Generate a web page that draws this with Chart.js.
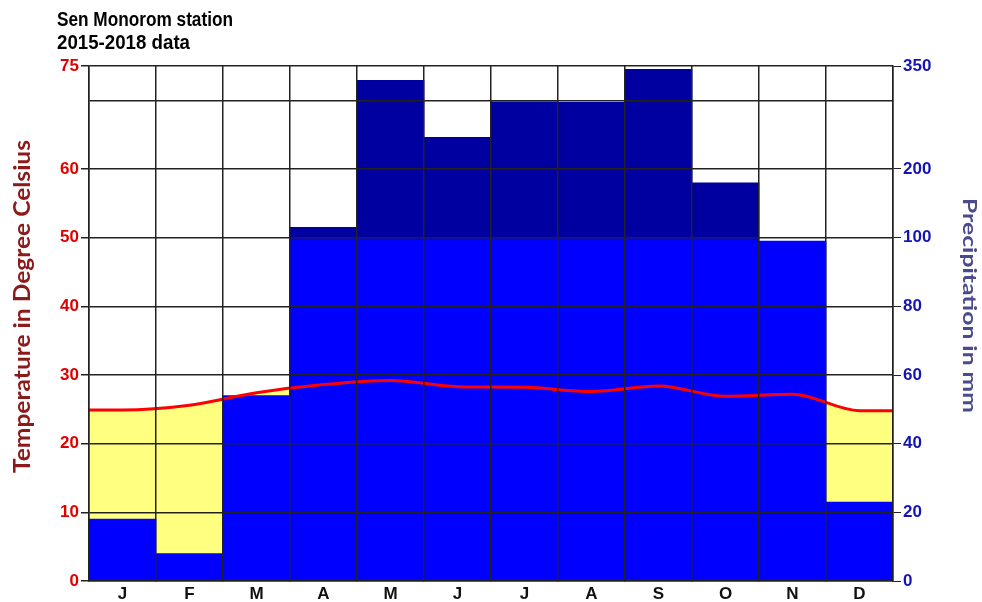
<!DOCTYPE html>
<html>
<head>
<meta charset="utf-8">
<title>Sen Monorom station climate diagram</title>
<script src="https://cdn.jsdelivr.net/npm/chart.js@4.4.1/dist/chart.umd.min.js"></script>
<style>
  html, body { margin: 0; padding: 0; background: #fff; }
  #wrap { width: 982px; height: 602px; }
</style>
</head>
<body>
<div id="wrap"><canvas id="climate" width="982" height="602"></canvas></div>
<script>
const months = ['J', 'F', 'M', 'A', 'M', 'J', 'J', 'A', 'S', 'O', 'N', 'D'];
const temperature = [24.9, 25.6, 27.4, 28.6, 29.2, 28.3, 28.2, 27.6, 28.4, 26.9, 27.2, 24.8];
const precipitation = [18, 8, 54, 115, 329, 246, 298, 297, 345, 180, 99, 23];
const tempTicks = [0, 10, 20, 30, 40, 50, 60, 70, 75];
const precipTicks = [0, 20, 40, 60, 80, 100, 200, 300, 350];
const hiddenIndex = 7; // the 70 / 300 line has no label

// mm -> position on the temperature axis: 20 mm per 10 °C up to 100 mm, then 100 mm per 10 °C
function precipToTemp(p) {
  return p <= 100 ? p / 2 : 50 + (p - 100) / 10;
}

// temperature curve through the month centres, held flat out to both edges
const tempPoints = [{ x: 0, y: temperature[0] }]
  .concat(temperature.map((t, i) => ({ x: i + 0.5, y: t })))
  .concat([{ x: 12, y: temperature[11] }]);
const wetBars = precipitation.map(p => [0, Math.min(precipToTemp(p), 50)]);
const humidBars = precipitation.map(p => (p > 100 ? [50, precipToTemp(p)] : null));

const tickFont = { family: 'Liberation Sans', size: 17, weight: 'bold' };
const gridColor = '#222';

function fitText(ctx, text, x, y, width, rotation, font, color) {
  ctx.save();
  ctx.font = font;
  ctx.fillStyle = color;
  ctx.textAlign = 'center';
  ctx.textBaseline = 'middle';
  ctx.translate(x, y);
  ctx.rotate(rotation);
  ctx.scale(width / ctx.measureText(text).width, 1);
  ctx.fillText(text, 0, 0);
  ctx.restore();
}

const labelsPlugin = {
  id: 'labels',
  afterDraw(chart) {
    const ctx = chart.ctx;
    fitText(ctx, 'Sen Monorom station', 145, 20, 176, 0, 'bold 20px "Liberation Sans"', '#000');
    fitText(ctx, '2015-2018 data', 123.5, 43, 133, 0, 'bold 20px "Liberation Sans"', '#000');
    fitText(ctx, 'Temperature in Degree Celsius', 22.5, 306.5, 333, -Math.PI / 2, 'bold 22px Lato', '#8b1a1a');
    fitText(ctx, 'Precipitation in mm', 969, 305.5, 215, Math.PI / 2, 'bold 19px Lato', '#4b4b8c');
  }
};

function tickMarkColor(c) {
  return c.tick && c.tick.value === tempTicks[hiddenIndex] ? 'rgba(0,0,0,0)' : gridColor;
}

new Chart(document.getElementById('climate'), {
  type: 'bar',
  data: {
    labels: months,
    datasets: [
      {
        type: 'line',
        data: tempPoints,
        xAxisID: 'xLine',
        yAxisID: 'y',
        fill: 'origin',
        backgroundColor: '#ffff80',
        borderWidth: 0,
        pointRadius: 0,
        cubicInterpolationMode: 'monotone',
        order: 3
      },
      {
        data: wetBars,
        xAxisID: 'x',
        yAxisID: 'y',
        backgroundColor: '#0000ff',
        categoryPercentage: 1,
        barPercentage: 1,
        grouped: false,
        order: 2
      },
      {
        data: humidBars,
        xAxisID: 'x',
        yAxisID: 'y',
        backgroundColor: '#0000a0',
        categoryPercentage: 1,
        barPercentage: 1,
        grouped: false,
        order: 2
      },
      {
        type: 'line',
        data: tempPoints,
        xAxisID: 'xLine',
        yAxisID: 'y',
        fill: false,
        borderColor: '#ff0000',
        borderWidth: 3,
        pointRadius: 0,
        cubicInterpolationMode: 'monotone',
        order: 1
      }
    ]
  },
  options: {
    responsive: false,
    animation: false,
    layout: { padding: { top: 66, left: 0, right: 0, bottom: 0 } },
    plugins: { legend: { display: false }, tooltip: { enabled: false } },
    scales: {
      x: {
        type: 'category',
        offset: true,
        grid: { offset: true, color: gridColor, lineWidth: 1.5, tickLength: 0, z: 1 },
        border: { color: gridColor, width: 1.5, z: 1 },
        ticks: { color: '#111', font: tickFont, padding: 3, maxRotation: 0, autoSkip: false },
        afterFit: s => { s.height = 21; }
      },
      xLine: {
        type: 'linear',
        min: 0,
        max: 12,
        offset: false,
        grid: { offset: false },
        display: false
      },
      y: {
        position: 'left',
        min: 0,
        max: 75,
        afterBuildTicks: s => { s.ticks = tempTicks.map(v => ({ value: v })); },
        ticks: {
          color: '#e00000',
          font: tickFont,
          padding: 2,
          callback: (v, i) => (i === hiddenIndex ? '' : tempTicks[i])
        },
        grid: { color: gridColor, lineWidth: 1.5, tickLength: 8, tickColor: tickMarkColor, z: 1 },
        border: { color: gridColor, width: 1.5, z: 1 },
        afterFit: s => { s.width = 89; }
      },
      y2: {
        position: 'right',
        min: 0,
        max: 75,
        afterBuildTicks: s => { s.ticks = tempTicks.map(v => ({ value: v })); },
        ticks: {
          color: '#1414b4',
          font: tickFont,
          padding: 2,
          callback: (v, i) => (i === hiddenIndex ? '' : precipTicks[i])
        },
        grid: { drawOnChartArea: false, tickLength: 8, tickColor: tickMarkColor, z: 1 },
        border: { color: gridColor, width: 1.5, z: 1 },
        afterFit: s => { s.width = 89; }
      }
    }
  },
  plugins: [labelsPlugin]
});
</script>
</body>
</html>
